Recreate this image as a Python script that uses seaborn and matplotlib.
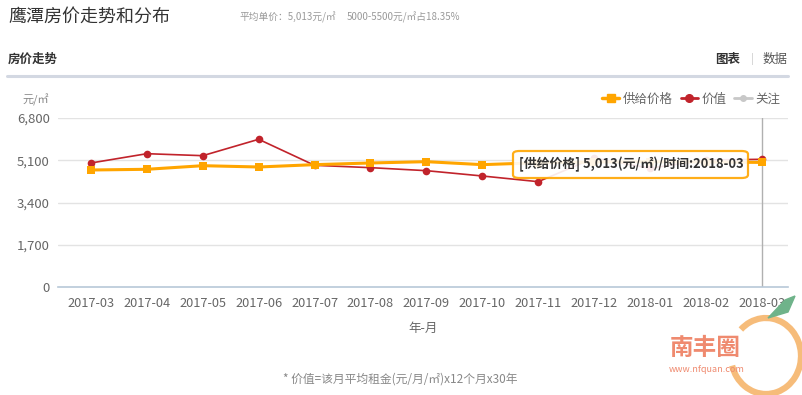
import matplotlib
matplotlib.use("Agg")
import matplotlib.pyplot as plt
import seaborn as sns
import pandas as pd
from matplotlib.lines import Line2D
from matplotlib.patches import FancyBboxPatch, Arc, Polygon

# === DATA ===
months = ["2017-03", "2017-04", "2017-05", "2017-06", "2017-07", "2017-08", "2017-09",
          "2017-10", "2017-11", "2017-12", "2018-01", "2018-02", "2018-03"]
supply_price = [4708, 4736, 4881, 4829, 4923, 4990, 5043, 4923, 5000, 5030, 5040, 5030, 5013]
value_price = [4990, 5364, 5284, 5943, 4896, 4802, 4681, 4467, 4238, 5190, 4780, 5110, 5138]
y_ticks = [0, 1700, 3400, 5100, 6800]
y_tick_labels = ["0", "1,700", "3,400", "5,100", "6,800"]

df = pd.DataFrame({"month": months, "idx": range(len(months)),
                   "supply": supply_price, "value": value_price})

# === STYLE ===
sns.set_style("white")
plt.rcParams['font.family'] = ['Noto Sans CJK SC', 'DejaVu Sans']

ORANGE = "#ffa500"
RED = "#c1232b"
GREY_TXT = "#666666"

fig = plt.figure(figsize=(8.03, 3.95), dpi=100)
ax = fig.add_axes([58 / 803, 1 - 287 / 395, (788 - 58) / 803, (287 - 118) / 395])

sns.lineplot(data=df, x="idx", y="supply", ax=ax, color=ORANGE, linewidth=2.2,
             marker="s", markersize=6, markeredgewidth=0, zorder=4)
sns.lineplot(data=df, x="idx", y="value", ax=ax, color=RED, linewidth=1.2,
             marker="o", markersize=5.5, markeredgewidth=0, zorder=3)

ax.set_ylim(0, 6800)
ax.set_xlim(-0.59, len(months) - 1 + 0.47)
ax.set_yticks(y_ticks)
ax.set_yticklabels(y_tick_labels)
ax.set_xticks(range(len(months)))
ax.set_xticklabels(months)
ax.tick_params(axis="x", colors="#b8c8d8", labelcolor=GREY_TXT, labelsize=9.2,
               length=4, width=1, pad=3)
ax.tick_params(axis="y", length=0, labelcolor=GREY_TXT, labelsize=9.5, pad=6)
ax.set_xlabel("年-月", color=GREY_TXT, fontsize=9, labelpad=9)
ax.set_ylabel("")
for y in y_ticks[1:]:
    ax.axhline(y, color="#e3e3e3", linewidth=1, zorder=0)
for s in ["top", "right", "left"]:
    ax.spines[s].set_visible(False)
ax.spines["bottom"].set_color("#b8c8d8")
ax.spines["bottom"].set_linewidth(1.2)

# crosshair on last month
ax.axvline(len(months) - 1, color="#b0b0b0", linewidth=1, zorder=1)

# tooltip
tip = FancyBboxPatch((513 / 803, 1 - 178 / 395), 235 / 803, 27 / 395,
                     boxstyle="round,pad=0,rounding_size=0.008",
                     transform=fig.transFigure, facecolor="white",
                     edgecolor=ORANGE, linewidth=1.6, alpha=0.9, zorder=10)
fig.patches.append(tip)
fig.text(631 / 803, 1 - 164 / 395, "[供给价格] 5,013(元/㎡)/时间:2018-03",
         ha="center", va="center", fontsize=9.3, fontweight="bold", color="#333333", zorder=11)

# legend
handles = [Line2D([], [], color=ORANGE, lw=2.5, marker="s", markersize=6),
           Line2D([], [], color=RED, lw=2, marker="o", markersize=5.5),
           Line2D([], [], color="#c8c8c8", lw=2, marker="o", markersize=4)]
fig.legend(handles, ["供给价格", "价值", "关注"], loc="center right",
           bbox_to_anchor=(792 / 803, 1 - 99 / 395), ncol=3, frameon=False,
           fontsize=9, handlelength=1.4, handletextpad=0.3, columnspacing=0.6,
           labelcolor=GREY_TXT)

# unit label
fig.text(23 / 803, 1 - 100 / 395, "元/㎡", fontsize=8, color="#888888", va="center")

# === HEADER ===
fig.text(8 / 803, 1 - 17 / 395, "鹰潭房价走势和分布", fontsize=13, color="#333333", va="center")
fig.text(336 / 803, 1 - 17 / 395, "平均单价：5,013元/㎡", fontsize=7, color="#999999",
         va="center", ha="right")
fig.text(347 / 803, 1 - 17 / 395, "5000-5500元/㎡占18.35%", fontsize=7, color="#999999",
         va="center", ha="left")
fig.text(8 / 803, 1 - 59 / 395, "房价走势", fontsize=9, fontweight="bold", color="#333333", va="center")
fig.text(740 / 803, 1 - 59 / 395, "图表", fontsize=9, fontweight="bold", color="#333333",
         va="center", ha="right")
fig.text(752 / 803, 1 - 59 / 395, "|", fontsize=8, color="#cccccc", va="center", ha="center")
fig.text(788 / 803, 1 - 59 / 395, "数据", fontsize=9, color="#555555", va="center", ha="right")
fig.add_artist(Line2D([7 / 803, 788 / 803], [1 - 76 / 395, 1 - 76 / 395],
                      color="#d3d8e2", linewidth=2.2, transform=fig.transFigure))

# === FOOTNOTE ===
fig.text(400 / 803, 1 - 379 / 395, "* 价值=该月平均租金(元/月/㎡)x12个月x30年",
         fontsize=8.5, color="#888888", va="center", ha="center")

# === WATERMARK ===
fig.add_artist(Arc((766 / 803, 1 - 356 / 395), 70 / 803, 76 / 395, theta1=-150, theta2=115,
                   color="#f6b56c", linewidth=4.5, transform=fig.transFigure, alpha=0.9))
fig.add_artist(Polygon([[768 / 803, 1 - 318 / 395], [785 / 803, 1 - 300 / 395],
                        [795 / 803, 1 - 296 / 395], [788 / 803, 1 - 312 / 395]],
                       closed=True, color="#6fb38a", transform=fig.transFigure))
fig.text(705 / 803, 1 - 348 / 395, "南丰圈", fontsize=17, fontweight="bold",
         color="#ef8a6f", va="center", ha="center")
fig.text(707 / 803, 1 - 370 / 395, "www.nfquan.com", fontsize=6.5,
         color="#ef8a6f", va="center", ha="center")

fig.savefig("out.png", dpi=100, facecolor="white")
